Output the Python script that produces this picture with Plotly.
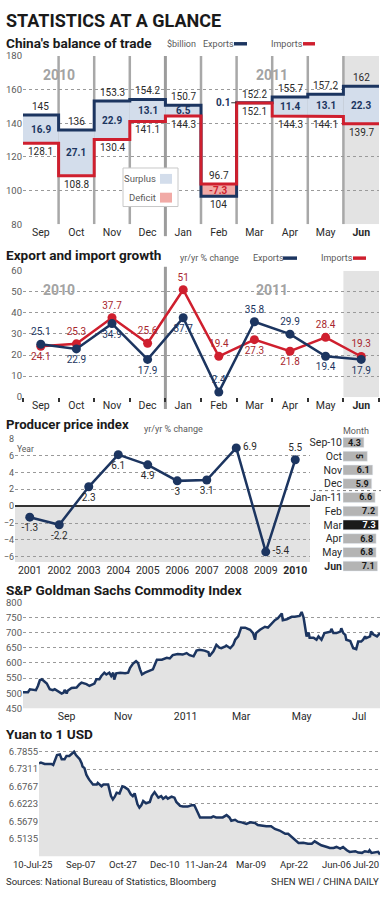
import plotly.graph_objects as go

W, H = 386, 899
def fx(p): return p / W
def fy(p): return 1 - p / H

NAVY = "#1c3560"
RED = "#cf1f2e"
DRED = "#a8262d"
TXT = "#2a2a2a"
GTXT = "#5a5a5a"
GRID = "#9a9a9a"
BAND = "#e3e3e3"
SURPLUS = "#d3ddeb"
DEFICIT = "#f1aaa6"
VLINE = "#a8a8a8"
FONT = "Roboto"

# ---------------- DATA ----------------
months = ["Sep", "Oct", "Nov", "Dec", "Jan", "Feb", "Mar", "Apr", "May", "Jun"]
trade_exports = [145, 136, 153.3, 154.2, 150.7, 96.7, 152.2, 155.7, 157.2, 162]
trade_imports = [128.1, 108.8, 130.4, 141.1, 144.3, 104, 152.1, 144.3, 144.1, 139.7]
trade_balance = [16.9, 27.1, 22.9, 13.1, 6.5, -7.3, 0.1, 11.4, 13.1, 22.3]

growth_exports = [25.1, 22.9, 34.9, 17.9, 37.7, 2.4, 35.8, 29.9, 19.4, 17.9]
growth_imports = [24.1, 25.3, 37.7, 25.6, 51, 19.4, 27.3, 21.8, 28.4, 19.3]

ppi_years = [2001, 2002, 2003, 2004, 2005, 2006, 2007, 2008, 2009, 2010]
ppi_values = [-1.3, -2.2, 2.3, 6.1, 4.9, 3, 3.1, 6.9, -5.4, 5.5]
ppi_months = ["Sep-10", "Oct", "Nov", "Dec", "Jan-11", "Feb", "Mar", "Apr", "May", "Jun"]
ppi_month_values = [4.3, 5, 6.1, 5.9, 6.6, 7.2, 7.3, 6.8, 6.8, 7.1]

gsci_dates = ["2010-07-25", "2010-07-30", "2010-08-01", "2010-08-04", "2010-08-07", "2010-08-09", "2010-08-11",
              "2010-08-13", "2010-08-14", "2010-08-18", "2010-08-21", "2010-08-24", "2010-08-26", "2010-08-29",
              "2010-09-02", "2010-09-04", "2010-09-05", "2010-09-07", "2010-09-08", "2010-09-12", "2010-09-17",
              "2010-09-20", "2010-09-22", "2010-09-27", "2010-09-30", "2010-10-05", "2010-10-07", "2010-10-10",
              "2010-10-12", "2010-10-15", "2010-10-17", "2010-10-20", "2010-10-22", "2010-10-24", "2010-10-25",
              "2010-10-27", "2010-10-31", "2010-11-05", "2010-11-08", "2010-11-10", "2010-11-13", "2010-11-16",
              "2010-11-18", "2010-11-20", "2010-11-22", "2010-11-25", "2010-11-28", "2010-12-03", "2010-12-05",
              "2010-12-07", "2010-12-12", "2010-12-17", "2010-12-20", "2010-12-23", "2010-12-28", "2011-01-02",
              "2011-01-06", "2011-01-09", "2011-01-13", "2011-01-16", "2011-01-19", "2011-01-24", "2011-01-28",
              "2011-01-29", "2011-02-02", "2011-02-05", "2011-02-08", "2011-02-10", "2011-02-14", "2011-02-15",
              "2011-02-19", "2011-02-22", "2011-02-24", "2011-02-27", "2011-03-02", "2011-03-06", "2011-03-11",
              "2011-03-14", "2011-03-16", "2011-03-17", "2011-03-21", "2011-03-26", "2011-03-29", "2011-04-02",
              "2011-04-05", "2011-04-08", "2011-04-12", "2011-04-13", "2011-04-17", "2011-04-22", "2011-04-25",
              "2011-04-30", "2011-05-02", "2011-05-04", "2011-05-07", "2011-05-09", "2011-05-10", "2011-05-14",
              "2011-05-17", "2011-05-19", "2011-05-22", "2011-05-25", "2011-05-31", "2011-06-01", "2011-06-03",
              "2011-06-06", "2011-06-10", "2011-06-11", "2011-06-13", "2011-06-15", "2011-06-16", "2011-06-20",
              "2011-06-23", "2011-06-26", "2011-06-28", "2011-07-01", "2011-07-03", "2011-07-05", "2011-07-06",
              "2011-07-10", "2011-07-11", "2011-07-13", "2011-07-15", "2011-07-17", "2011-07-20"]
gsci_values = [503, 503, 513, 511, 510, 524, 543, 546, 543, 532, 513, 510, 513, 508,
               499, 502, 511, 499, 508, 517, 519, 530, 535, 530, 524, 532, 546, 546,
               557, 568, 562, 568, 557, 568, 545, 566, 568, 566, 568, 584, 598, 606,
               600, 579, 562, 568, 573, 579, 595, 611, 611, 617, 615, 626, 630, 628,
               633, 626, 622, 641, 644, 641, 636, 622, 639, 660, 651, 649, 655, 658,
               649, 660, 677, 688, 717, 717, 710, 699, 677, 699, 710, 720, 717, 731,
               742, 748, 764, 742, 745, 753, 753, 756, 769, 750, 688, 701, 684, 684,
               677, 688, 677, 699, 704, 713, 699, 699, 704, 715, 699, 693, 677, 673,
               649, 646, 671, 671, 677, 688, 682, 688, 704, 695, 691, 688, 699]

yuan_dates = ["2010-07-25", "2010-07-27", "2010-07-31", "2010-08-03", "2010-08-07", "2010-08-09", "2010-08-11",
              "2010-08-13", "2010-08-16", "2010-08-18", "2010-08-21", "2010-08-23", "2010-08-26", "2010-08-28",
              "2010-08-31", "2010-09-02", "2010-09-04", "2010-09-06", "2010-09-08", "2010-09-09", "2010-09-11",
              "2010-09-13", "2010-09-15", "2010-09-16", "2010-09-20", "2010-09-24", "2010-09-25", "2010-09-29",
              "2010-10-01", "2010-10-06", "2010-10-09", "2010-10-11", "2010-10-13", "2010-10-15", "2010-10-18",
              "2010-10-21", "2010-10-23", "2010-10-27", "2010-10-30", "2010-11-01", "2010-11-03", "2010-11-06",
              "2010-11-08", "2010-11-10", "2010-11-12", "2010-11-15", "2010-11-19", "2010-11-21", "2010-11-24",
              "2010-11-28", "2010-12-01", "2010-12-03", "2010-12-06", "2010-12-08", "2010-12-12", "2010-12-15",
              "2010-12-17", "2010-12-21", "2010-12-24", "2010-12-29", "2011-01-02", "2011-01-05", "2011-01-07",
              "2011-01-11", "2011-01-14", "2011-01-23", "2011-01-25", "2011-01-28", "2011-02-04", "2011-02-08",
              "2011-02-11", "2011-02-13", "2011-02-17", "2011-02-20", "2011-02-24", "2011-03-01", "2011-03-05",
              "2011-03-10", "2011-03-13", "2011-03-17", "2011-03-22", "2011-03-27", "2011-03-31", "2011-04-05",
              "2011-04-09", "2011-04-11", "2011-04-14", "2011-04-18", "2011-04-21", "2011-04-25", "2011-04-30",
              "2011-05-05", "2011-05-09", "2011-05-12", "2011-05-16", "2011-05-19", "2011-05-25", "2011-05-28",
              "2011-06-01", "2011-06-04", "2011-06-08", "2011-06-11", "2011-06-15", "2011-06-18", "2011-06-24",
              "2011-06-27", "2011-07-01", "2011-07-04", "2011-07-08", "2011-07-09", "2011-07-11", "2011-07-15",
              "2011-07-18", "2011-07-20"]
yuan_values = [6.7496, 6.7516, 6.7475, 6.7465, 6.7475, 6.7444, 6.7598, 6.7752, 6.7773, 6.7619, 6.7619,
               6.7722, 6.7722, 6.7783, 6.7855, 6.7752, 6.7701, 6.7619, 6.7496, 6.7393, 6.7342, 6.7137,
               6.7034, 6.6983, 6.6829, 6.6829, 6.6880, 6.6777, 6.6829, 6.6829, 6.6470, 6.6367, 6.6449,
               6.6572, 6.6552, 6.6777, 6.6757, 6.6675, 6.6521, 6.6470, 6.6552, 6.6213, 6.6110, 6.6182,
               6.6316, 6.6244, 6.6285, 6.6470, 6.6593, 6.6419, 6.6470, 6.6388, 6.6449, 6.6388, 6.6449,
               6.6419, 6.6285, 6.6162, 6.6141, 6.6141, 6.6182, 6.6182, 6.6059, 6.5802, 6.5802, 6.5802,
               6.5833, 6.5802, 6.5802, 6.5874, 6.5802, 6.5699, 6.5730, 6.5669, 6.5648, 6.5597, 6.5648,
               6.5628, 6.5566, 6.5546, 6.5525, 6.5525, 6.5443, 6.5392, 6.5340, 6.5289, 6.5289, 6.5186,
               6.5084, 6.5002, 6.5012, 6.4981, 6.4981, 6.5053, 6.4981, 6.4930, 6.4879, 6.4848, 6.4848,
               6.4879, 6.4827, 6.4879, 6.4776, 6.4725, 6.4745, 6.4704, 6.4694, 6.4745, 6.4725, 6.4776,
               6.4694, 6.4704, 6.4725, 6.4643]

# tick labels (text) and where the reference shows them along the time axes
gsci_tick_text = ["Sep", "Nov", "2011", "Mar", "May", "Jul"]
gsci_tick_at = ["2010-09-07", "2010-11-03", "2011-01-05", "2011-03-02", "2011-05-02", "2011-06-29"]
yuan_ticks = [6.5135, 6.5679, 6.6223, 6.6767, 6.7311, 6.7855]
yuan_tick_text = ["10-Jul-25", "Sep-07", "Oct-27", "Dec-10", "11-Jan-24",
                  "Mar-09", "Apr-22", "Jun-06", "Jul-20"]
yuan_tick_at = ["2010-07-25", "2010-09-07", "2010-10-22", "2010-12-05", "2011-01-18",
                "2011-03-06", "2011-04-20", "2011-06-04", "2011-07-20"]

# label placement (style only)
growth_exp_pos = ["top center", "bottom center", "bottom center", "bottom center", "bottom center",
                  "top center", "top center", "top center", "bottom center", "bottom center"]
growth_imp_pos = ["bottom center", "top center", "top center", "top center", "top center",
                  "top center", "bottom center", "bottom center", "top center", "top center"]
ppi_pos = ["bottom center"] * 7 + ["middle right", "middle right", "top center"]

# ---------------- FIGURE ----------------
fig = go.Figure()
ann = []
shapes = []
n = len(months)
idx = list(range(n))
month_ticks = [("<b>%s</b>" % m if i == n - 1 else m) for i, m in enumerate(months)]


def A(text, x, y, size=10, color=TXT, xanchor="left", yanchor="middle", **kw):
    d = dict(text=text, x=fx(x), y=fy(y), xref="paper", yref="paper", showarrow=False,
             xanchor=xanchor, yanchor=yanchor, font=dict(family=FONT, size=size, color=color))
    d.update(kw)
    return d


def rect(x0, y0, x1, y1, fill, line=None, lw=0, layer="above"):
    return dict(type="rect", xref="paper", yref="paper", x0=fx(x0), x1=fx(x1), y0=fy(y0), y1=fy(y1),
                fillcolor=fill, line=dict(color=line or fill, width=lw), layer=layer)


SUB = 13.6
# Title
ann.append(A("<b>STATISTICS AT A GLANCE</b>", 4, 15, size=18, color="#1a1a1a"))

# ---------- Panel 1: balance of trade ----------
ann.append(A("<b>China's balance of trade</b>", 4, 37, size=SUB, color="#1a1a1a"))
ann.append(A("$billion", 165, 38, size=9, color=GTXT))
ann.append(A("Exports", 201, 38, size=9, color=GTXT))
shapes.append(rect(234, 36.5, 247, 40, NAVY))
ann.append(A("Imports", 269, 38, size=9, color=GTXT))
shapes.append(rect(303, 36.5, 315, 40, RED))

for i in idx:
    e, m = trade_exports[i], trade_imports[i]
    fig.add_trace(go.Scatter(x=[i - 0.5, i + 0.5, i + 0.5, i - 0.5, i - 0.5], y=[m, m, e, e, m],
                             fill="toself", fillcolor=SURPLUS if e >= m else DEFICIT,
                             mode="lines", line=dict(width=0), hoverinfo="skip", showlegend=False,
                             xaxis="x", yaxis="y"))


def step_xy(vals):
    xs, ys = [], []
    for i, v in enumerate(vals):
        xs += [i - 0.5, i + 0.5]
        ys += [v, v]
    return xs, ys


sx, sy = step_xy(trade_exports)
fig.add_trace(go.Scatter(x=sx, y=sy, mode="lines", line=dict(color=NAVY, width=3),
                         hoverinfo="skip", showlegend=False, xaxis="x", yaxis="y"))
sx, sy = step_xy(trade_imports)
fig.add_trace(go.Scatter(x=sx, y=sy, mode="lines", line=dict(color=RED, width=3),
                         hoverinfo="skip", showlegend=False, xaxis="x", yaxis="y"))

for i in idx:
    e, m, b = trade_exports[i], trade_imports[i], trade_balance[i]
    top, bot = max(e, m), min(e, m)
    ann.append(dict(text=f"{e:g}", x=i, y=top, xref="x", yref="y", showarrow=False, yanchor="bottom",
                    yshift=1, font=dict(family=FONT, size=10, color=TXT)))
    ann.append(dict(text=f"{m:g}", x=i, y=bot, xref="x", yref="y", showarrow=False, yanchor="top",
                    yshift=-1, font=dict(family=FONT, size=10, color=TXT)))
    if abs(b) < 1:
        ann.append(dict(text=f"<b>{b:g}</b>", x=i - 0.5, y=e, xref="x", yref="y", showarrow=False,
                        xanchor="right", xshift=-5, font=dict(family=FONT, size=10, color=NAVY)))
        shapes.append(dict(type="line", xref="x", yref="y", x0=i - 0.65, x1=i - 0.5, y0=e, y1=e,
                           line=dict(color="#333", width=1)))
    else:
        ann.append(dict(text=f"<b>{b:g}</b>", x=i, y=(e + m) / 2, xref="x", yref="y", showarrow=False,
                        font=dict(family=FONT, size=10, color=NAVY if b > 0 else RED)))

shapes.append(dict(type="rect", xref="x", yref="y", x0=n - 1.5, x1=n - 0.5, y0=80, y1=180,
                   fillcolor=BAND, line=dict(width=0), layer="below"))
for i in range(n - 1):
    if i == 3:
        continue
    shapes.append(dict(type="line", xref="x", yref="y", x0=i + 0.5, x1=i + 0.5, y0=80, y1=180,
                       line=dict(color=VLINE, width=2.5), layer="below"))
shapes.append(dict(type="line", xref="x", yref="paper", x0=3.5, x1=3.5, y0=fy(233), y1=fy(50.6),
                   line=dict(color="#9c9c9c", width=3), layer="below"))
ann.append(dict(text="<b>2010</b>", x=0.5, y=fy(60), xref="x", yref="paper", showarrow=False,
                font=dict(family=FONT, size=14, color="#a3a3a3")))
ann.append(dict(text="<b>2011</b>", x=6.5, y=fy(60), xref="x", yref="paper", showarrow=False,
                font=dict(family=FONT, size=14, color="#a3a3a3")))
# legend box
shapes.append(rect(123, 164, 178, 203, "white", line="#c8c8c8", lw=1))
ann.append(A("Surplus", 158, 175, size=9.5, color=GTXT, xanchor="right"))
shapes.append(rect(160, 170, 172, 180, SURPLUS))
ann.append(A("Deficit", 158, 194, size=9.5, color=GTXT, xanchor="right"))
shapes.append(rect(160, 189, 172, 199, DEFICIT))

# ---------- Panel 2: growth ----------
ann.append(A("<b>Export and import growth</b>", 4, 252, size=SUB, color="#1a1a1a"))
ann.append(A("yr/yr % change", 178, 255, size=9, color=GTXT))
ann.append(A("Exports", 251, 255, size=9, color=GTXT))
shapes.append(rect(283, 253.5, 297, 257, NAVY))
ann.append(A("Imports", 319, 255, size=9, color=GTXT))
shapes.append(rect(353, 253.5, 366, 257, RED))

fig.add_trace(go.Scatter(x=idx, y=growth_imports, mode="lines+markers+text",
                         line=dict(color=RED, width=2.5), marker=dict(color=RED, size=9),
                         text=[f"{v:g}" for v in growth_imports], textposition=growth_imp_pos,
                         textfont=dict(family=FONT, size=10, color=DRED),
                         hoverinfo="skip", showlegend=False, xaxis="x2", yaxis="y2", cliponaxis=False))
fig.add_trace(go.Scatter(x=idx, y=growth_exports, mode="lines+markers+text",
                         line=dict(color=NAVY, width=2.5), marker=dict(color=NAVY, size=9),
                         text=[f"{v:g}" for v in growth_exports], textposition=growth_exp_pos,
                         textfont=dict(family=FONT, size=10, color=NAVY),
                         hoverinfo="skip", showlegend=False, xaxis="x2", yaxis="y2", cliponaxis=False))
shapes.append(dict(type="rect", xref="x2", yref="y2", x0=n - 1.5, x1=n - 0.5, y0=0, y1=60,
                   fillcolor=BAND, line=dict(width=0), layer="below"))
shapes.append(dict(type="line", xref="x2", yref="paper", x0=3.5, x1=3.5, y0=fy(408), y1=fy(264),
                   line=dict(color="#9c9c9c", width=3), layer="below"))
ann.append(dict(text="<b>2010</b>", x=0.5, y=fy(277), xref="x2", yref="paper", showarrow=False,
                font=dict(family=FONT, size=14, color="#a3a3a3")))
ann.append(dict(text="<b>2011</b>", x=6.5, y=fy(277), xref="x2", yref="paper", showarrow=False,
                font=dict(family=FONT, size=14, color="#a3a3a3")))

# ---------- Panel 3: PPI ----------
ann.append(A("<b>Producer price index</b>", 4, 423.5, size=13.2, color="#1a1a1a"))
ann.append(A("yr/yr % change", 142, 428, size=9, color=GTXT))
ann.append(A("Year", 15, 448, size=8.5, color=GTXT))
shapes.append(dict(type="rect", xref="x3 domain", yref="y3", x0=0, x1=1, y0=-6.62, y1=0,
                   fillcolor=BAND, line=dict(width=0), layer="below"))
fig.add_trace(go.Scatter(x=ppi_years, y=ppi_values, mode="lines+markers+text",
                         line=dict(color=NAVY, width=2.5), marker=dict(color=NAVY, size=9),
                         text=[f"{v:g}" for v in ppi_values], textposition=ppi_pos,
                         textfont=dict(family=FONT, size=10, color=TXT),
                         hoverinfo="skip", showlegend=False, xaxis="x3", yaxis="y3", cliponaxis=False))

# table of months
ann.append(A("Month", 356, 430, size=9, color=GTXT, xanchor="center"))
bar_colors = ["#1a1a1a" if v == max(ppi_month_values) else "#b4b4b4" for v in ppi_month_values]
txt_colors = ["white" if v == max(ppi_month_values) else "#1a1a1a" for v in ppi_month_values]
fig.add_trace(go.Bar(x=ppi_month_values, y=ppi_months, orientation="h", marker=dict(color=bar_colors),
                     text=[f"<b>{v:g}</b>" for v in ppi_month_values], textposition="inside",
                     insidetextanchor="end", textfont=dict(family=FONT, size=9, color=txt_colors),
                     constraintext="none", hoverinfo="skip", showlegend=False, xaxis="x4", yaxis="y4"))
shapes.append(dict(type="line", xref="paper", yref="y4", x0=fx(313), x1=fx(381), y0=3.5, y1=3.5,
                   line=dict(color="#777", width=1, dash="dot")))

# ---------- Panel 4: GSCI ----------
ann.append(A("<b>S&P Goldman Sachs Commodity Index</b>", 4, 591, size=SUB, color="#1a1a1a"))
fig.add_trace(go.Scatter(x=gsci_dates, y=gsci_values, mode="lines", line=dict(color=NAVY, width=2.5),
                         fill="tozeroy", fillcolor=BAND, hoverinfo="skip", showlegend=False,
                         xaxis="x5", yaxis="y5"))

# ---------- Panel 5: Yuan ----------
ann.append(A("<b>Yuan to 1 USD</b>", 4, 737, size=SUB, color="#1a1a1a"))
fig.add_trace(go.Scatter(x=yuan_dates, y=yuan_values, mode="lines", line=dict(color=NAVY, width=2.5),
                         fill="tozeroy", fillcolor=BAND, hoverinfo="skip", showlegend=False,
                         xaxis="x6", yaxis="y6"))
for k, (d, t) in enumerate(zip(yuan_tick_at, yuan_tick_text)):
    a = dict(text=t, x=d, y=fy(862), xref="x6", yref="paper", showarrow=False, yanchor="top",
             xanchor="center", font=dict(family=FONT, size=9.5, color=TXT))
    if k == 0:
        a["xshift"] = -7
    if k == len(yuan_tick_at) - 1:
        a["xanchor"] = "right"
        a["xshift"] = 1
    ann.append(a)

ann.append(A("Sources: National Bureau of Statistics, Bloomberg", 4, 886, size=9.5, color=TXT))
ann.append(A("SHEN WEI / CHINA DAILY", 381, 886, size=9.5, color=TXT, xanchor="right"))

# ---------------- AXES ----------------
tickf = dict(family=FONT, size=9.5, color=GTXT)
xf = dict(family=FONT, size=10.5, color=TXT)
common_y = dict(showgrid=True, gridcolor=GRID, griddash="dot", gridwidth=1, zeroline=False,
                ticks="", ticklen=0, tickfont=tickf, fixedrange=True, showline=False)

fig.update_layout(
    width=W, height=H, autosize=False, margin=dict(l=0, r=0, t=0, b=0),
    paper_bgcolor="white", plot_bgcolor="rgba(0,0,0,0)", showlegend=False,
    font=dict(family=FONT, color=TXT), bargap=0.28,
    xaxis=dict(domain=[fx(23), fx(379)], range=[-0.5, n - 0.5], tickvals=idx, ticktext=month_ticks,
               showgrid=False, zeroline=False, ticks="", ticklen=0, tickfont=xf, anchor="y", fixedrange=True),
    yaxis=dict(domain=[fy(221), fy(50.6)], range=[80, 180], tickvals=[80, 100, 120, 140, 160, 180],
               anchor="x", **common_y),
    xaxis2=dict(domain=[fx(23), fx(379)], range=[-0.5, n - 0.5], tickvals=idx, ticktext=month_ticks,
                showgrid=False, zeroline=False, ticks="", ticklen=0, tickfont=xf, anchor="y2", fixedrange=True,
                minor=dict(ticks="outside", ticklen=4, tickcolor="#333", tickwidth=1.5,
                           tickmode="linear", tick0=-0.5, dtick=1, showgrid=False)),
    yaxis2=dict(domain=[fy(396), fy(268)], range=[0, 60], tickvals=[0, 10, 20, 30, 40, 50, 60],
                anchor="x2", **common_y),
    xaxis3=dict(domain=[fx(15), fx(310)], range=[2000.5, 2010.5], tickvals=ppi_years,
                ticktext=[("<b>%d</b>" % y if k == len(ppi_years) - 1 else str(y)) for k, y in enumerate(ppi_years)],
                showgrid=False, zeroline=False, ticks="", ticklen=0, tickfont=xf, anchor="y3", fixedrange=True),
    yaxis3=dict(domain=[fy(563), fy(438)], range=[-6.62, 8], tickvals=[-6, -4, -2, 0, 2, 4, 6, 8],
                anchor="x3", showgrid=True, gridcolor=GRID, griddash="dot", zeroline=True,
                zerolinecolor="#333", zerolinewidth=1.5, ticks="", ticklen=0,
                tickfont=dict(family=FONT, size=9, color=GTXT), fixedrange=True),
    xaxis7=dict(overlaying="x3", anchor="free", position=fy(506.6), side="bottom",
                range=[2000.5, 2010.5], tickmode="linear", tick0=2000.5, dtick=1, ticks="outside",
                ticklen=3, tickwidth=1.5, tickcolor="#333", showticklabels=False, showgrid=False,
                zeroline=False, showline=False, fixedrange=True),
    xaxis4=dict(domain=[fx(343), fx(380)], range=[0, 7.6], visible=False, anchor="y4", fixedrange=True),
    yaxis4=dict(domain=[fy(574), fy(435)], type="category", categoryorder="array",
                categoryarray=ppi_months, autorange="reversed", tickvals=ppi_months,
                ticktext=[("<b>%s</b>" % m if k == len(ppi_months) - 1 else m) for k, m in enumerate(ppi_months)],
                showgrid=False, zeroline=False, ticks="", ticklen=0, tickfont=xf, anchor="x4", fixedrange=True),
    xaxis5=dict(domain=[fx(23), fx(380)], type="date", range=["2010-07-25", "2011-07-20"],
                tickvals=gsci_tick_at, ticktext=gsci_tick_text, showgrid=False, zeroline=False,
                ticks="", ticklen=0, tickfont=xf, anchor="y5", fixedrange=True),
    yaxis5=dict(domain=[fy(711), fy(604)], range=[450, 800], tickvals=[450, 500, 550, 600, 650, 700, 750, 800],
                anchor="x5", **common_y),
    xaxis6=dict(domain=[fx(39), fx(380)], type="date", range=["2010-07-25", "2011-07-20"],
                showticklabels=False, showgrid=False, zeroline=False, ticks="", anchor="y6", fixedrange=True),
    yaxis6=dict(domain=[fy(860.7), fy(751.9)], range=[6.4591, 6.795], tickvals=yuan_ticks,
                tickformat=".4f", anchor="x6", **common_y),
    annotations=ann, shapes=shapes,
)

fig.write_html("out.html", config={"displayModeBar": False},
               post_script="document.body.style.margin='0';document.body.style.overflow='hidden';")
